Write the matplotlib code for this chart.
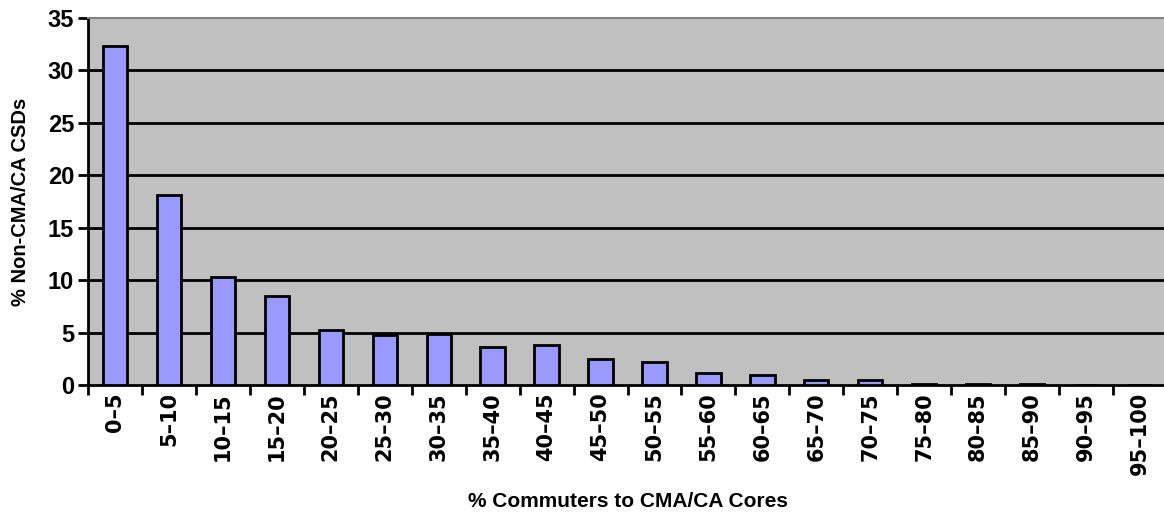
import numpy as np
import matplotlib
matplotlib.use('Agg')
import matplotlib.pyplot as plt

categories = ['0\u20135', '5\u201310', '10\u201315', '15\u201320', '20\u201325', '25\u201330',
              '30\u201335', '35\u201340', '40\u201345', '45\u201350', '50\u201355', '55\u201360',
              '60\u201365', '65\u201370', '70\u201375', '75\u201380', '80\u201385', '85\u201390',
              '90\u201395', '95\u2013100']
pct_csds = [32.3, 18.1, 10.3, 8.5, 5.25, 4.75, 4.85, 3.6, 3.8, 2.5,
            2.2, 1.1, 0.95, 0.45, 0.45, 0.1, 0.05, 0.1, 0.0, 0.0]

fig = plt.figure(figsize=(11.64, 5.14), dpi=100)
ax = fig.add_axes([0.0756, 0.251, 0.927, 0.714])
ax.set_facecolor('#c0c0c0')

x = np.arange(len(categories))
ax.bar(x, pct_csds, width=0.45, color='#9999ff', edgecolor='black', linewidth=2, zorder=3)

ax.set_xlim(-0.5, len(categories) - 0.5)
ax.set_ylim(0, 35)
ax.set_yticks(range(0, 36, 5))
for v in range(5, 35, 5):
    ax.axhline(v, color='black', linewidth=2, zorder=1)

ax.set_xticks(x)
ax.set_xticklabels(categories, rotation=90, fontsize=15, fontweight='bold', family='DejaVu Sans')
ax.tick_params(axis='x', length=0, pad=5)
ax.set_xticks(np.arange(-0.5, len(categories), 1), minor=True)
ax.tick_params(axis='x', which='minor', length=7, width=2, direction='out')
ax.tick_params(axis='y', length=7, width=2, direction='out', pad=3)
for lab in ax.get_yticklabels():
    lab.set_fontsize(17)
    lab.set_fontweight('bold')
    lab.set_family('Liberation Sans')

ax.spines['left'].set_linewidth(2)
ax.spines['bottom'].set_linewidth(2)
ax.spines['top'].set_color('#808080')
ax.spines['top'].set_linewidth(1.5)
ax.spines['right'].set_visible(False)

ax.set_ylabel('% Non-CMA/CA CSDs', fontsize=14.5, fontweight='bold', family='Liberation Sans', labelpad=13)
ax.set_xlabel('% Commuters to CMA/CA Cores', fontsize=15, fontweight='bold', family='Liberation Sans', labelpad=12)

fig.savefig('out.png', dpi=100)
